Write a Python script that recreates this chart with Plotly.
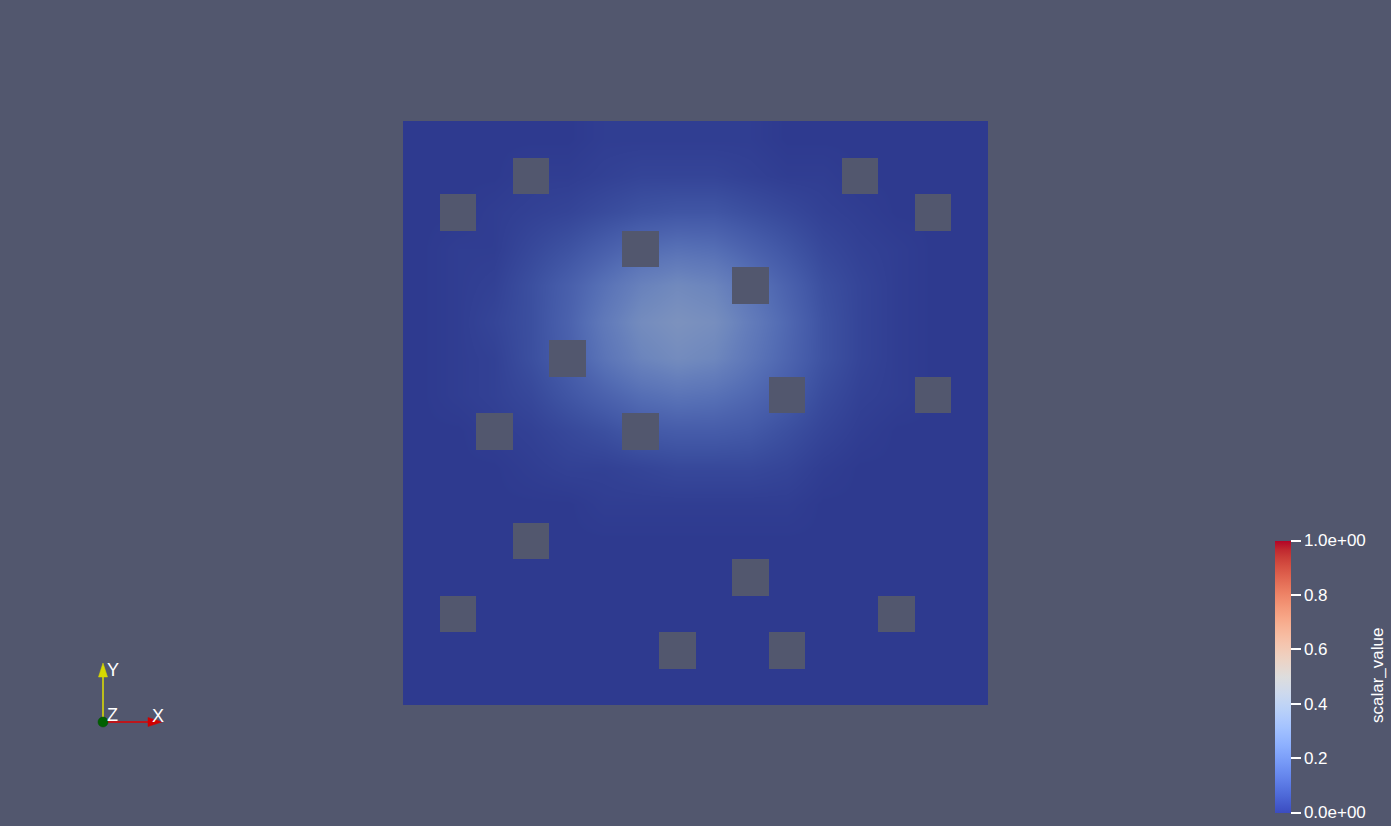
import plotly.graph_objects as go
import numpy as np

BG = "#52576e"

# 16 x 16 coarse grid of estimated scalar values (row 0 = top)
field_rows = [
    [0.00,0.00,0.00,0.00,0.00,0.01,0.01,0.01,0.01,0.01,0.00,0.00,0.00,0.00,0.00,0.00],
    [0.00,0.00,0.00,0.01,0.01,0.02,0.03,0.03,0.03,0.02,0.01,0.01,0.00,0.00,0.00,0.00],
    [0.00,0.00,0.01,0.02,0.03,0.05,0.07,0.08,0.08,0.06,0.04,0.02,0.01,0.00,0.00,0.00],
    [0.00,0.01,0.01,0.04,0.07,0.11,0.15,0.17,0.16,0.12,0.08,0.04,0.02,0.01,0.00,0.00],
    [0.00,0.01,0.02,0.06,0.11,0.17,0.23,0.26,0.24,0.18,0.12,0.06,0.03,0.01,0.00,0.00],
    [0.00,0.01,0.03,0.06,0.12,0.20,0.27,0.30,0.28,0.21,0.14,0.07,0.03,0.01,0.00,0.00],
    [0.00,0.01,0.02,0.06,0.11,0.18,0.24,0.27,0.25,0.19,0.13,0.07,0.03,0.01,0.00,0.00],
    [0.00,0.01,0.02,0.04,0.08,0.12,0.16,0.18,0.17,0.14,0.10,0.05,0.02,0.01,0.00,0.00],
    [0.00,0.00,0.01,0.02,0.04,0.06,0.09,0.10,0.10,0.09,0.06,0.03,0.01,0.00,0.00,0.00],
    [0.00,0.00,0.00,0.01,0.02,0.02,0.03,0.04,0.04,0.04,0.03,0.01,0.00,0.00,0.00,0.00],
    [0.00,0.00,0.00,0.00,0.00,0.01,0.01,0.01,0.01,0.01,0.01,0.00,0.00,0.00,0.00,0.00],
    [0.00]*16,
    [0.00]*16,
    [0.00]*16,
    [0.00]*16,
    [0.00]*16,
]

# obstacle cells (column, row from top)
hole_cols = [3, 12, 1, 14, 6, 9, 4, 10, 14, 2, 6, 3, 9, 1, 13, 7, 10]
hole_rows = [1, 1, 2, 2, 3, 4, 6, 7, 7, 8, 8, 11, 12, 13, 13, 14, 14]

# colorbar ticks
tick_vals = [0.0, 0.2, 0.4, 0.6, 0.8, 1.0]
tick_text = ["0.0e+00", "0.2", "0.4", "0.6", "0.8", "1.0e+00"]
bar_title = "scalar_value"

# Cool to Warm colormap
cw_pos = [0.0, 0.03125, 0.0625, 0.09375, 0.125, 0.15625, 0.1875, 0.21875, 0.25,
          0.28125, 0.3125, 0.34375, 0.375, 0.40625, 0.4375, 0.46875, 0.5,
          0.53125, 0.5625, 0.59375, 0.625, 0.65625, 0.6875, 0.71875, 0.75,
          0.78125, 0.8125, 0.84375, 0.875, 0.90625, 0.9375, 0.96875, 1.0]
cw_rgb = [(59,76,192),(68,90,204),(77,104,215),(87,117,225),(98,130,234),(108,142,241),
          (119,154,247),(130,165,251),(141,176,254),(152,185,255),(163,194,255),(174,201,253),
          (184,208,249),(194,213,244),(204,217,238),(213,219,230),(221,221,221),(229,216,209),
          (236,211,197),(241,204,185),(245,196,173),(247,187,160),(247,177,148),(247,166,135),
          (244,154,123),(241,141,111),(236,127,99),(229,112,88),(222,96,77),(213,80,66),
          (203,62,56),(192,40,47),(180,4,38)]

cs_true = [[p, "rgb(%d,%d,%d)" % c] for p, c in zip(cw_pos, cw_rgb)]
shade = (0.78, 0.765, 0.745)
cs_lit = [[p, "rgb(%d,%d,%d)" % tuple(int(round(v * s)) for v, s in zip(c, shade))]
          for p, c in zip(cw_pos, cw_rgb)]

FONT = "Liberation Sans, Arial"
n = 16
xc = [i + 0.5 for i in range(n)]
yc = [j + 0.5 for j in range(n)]

mask = np.full((n, n), np.nan)
for c, r in zip(hole_cols, hole_rows):
    mask[r, c] = 1.0

fig = go.Figure()
fig.add_trace(go.Heatmap(
    x=xc, y=yc, z=field_rows, colorscale=cs_lit, zmin=0, zmax=1,
    zsmooth="best", showscale=False, hoverinfo="skip"))
fig.add_trace(go.Heatmap(
    x=xc, y=yc, z=mask, colorscale=[[0, BG], [1, BG]], zmin=0, zmax=1,
    showscale=False, hoverinfo="skip", xgap=0, ygap=0))
fig.add_trace(go.Scatter(
    x=[-50], y=[-50], mode="markers", hoverinfo="skip", showlegend=False,
    marker=dict(color=[0.5], cmin=0, cmax=1, colorscale=cs_true, showscale=True, size=1,
                colorbar=dict(
                    thickness=16, thicknessmode="pixels",
                    len=272, lenmode="pixels",
                    x=1275 / 1391, xanchor="left", xref="paper",
                    y=1 - 676.5 / 826, yanchor="middle", yref="paper",
                    xpad=0, ypad=0, outlinewidth=0, borderwidth=0,
                    tickmode="array", tickvals=tick_vals, ticktext=tick_text,
                    ticks="outside", ticklen=10, tickwidth=1.5, tickcolor="white",
                    tickfont=dict(family=FONT, size=17, color="white"),
                ))))

W, H = 1391, 826
def px(x): return x / W
def py(y): return 1 - y / H

shapes = [
    dict(type="line", xref="paper", yref="paper", x0=px(103), y0=py(722), x1=px(103), y1=py(672),
         line=dict(color="#e0e000", width=1.5)),
    dict(type="path", xref="paper", yref="paper",
         path="M %f %f L %f %f L %f %f Z" % (px(98.5), py(677), px(103), py(663), px(107.5), py(677)),
         fillcolor="#d8d800", line=dict(color="#d8d800", width=0.5)),
    dict(type="line", xref="paper", yref="paper", x0=px(103), y0=py(722), x1=px(150), y1=py(722),
         line=dict(color="#e00000", width=1.5)),
    dict(type="path", xref="paper", yref="paper",
         path="M %f %f L %f %f L %f %f Z" % (px(148), py(717.5), px(162), py(722), px(148), py(726.5)),
         fillcolor="#d00000", line=dict(color="#d00000", width=0.5)),
    dict(type="circle", xref="paper", yref="paper", x0=px(98), y0=py(717), x1=px(108), y1=py(727),
         fillcolor="#006000", line=dict(color="#005000", width=0.5)),
]
annotations = [
    dict(text="Y", x=px(105), y=py(670), xref="paper", yref="paper", xanchor="left", yanchor="middle",
         showarrow=False, font=dict(family=FONT, size=18, color="white")),
    dict(text="Z", x=px(105), y=py(715), xref="paper", yref="paper", xanchor="left", yanchor="middle",
         showarrow=False, font=dict(family=FONT, size=18, color="white")),
    dict(text="X", x=px(150), y=py(716), xref="paper", yref="paper", xanchor="left", yanchor="middle",
         showarrow=False, font=dict(family=FONT, size=18, color="white")),
    dict(text=bar_title, x=px(1377), y=py(676), xref="paper", yref="paper", xanchor="center",
         yanchor="middle", textangle=-90, showarrow=False,
         font=dict(family=FONT, size=17, color="white")),
]

fig.update_layout(
    width=W, height=H, margin=dict(l=0, r=0, t=0, b=0),
    paper_bgcolor=BG, plot_bgcolor=BG, showlegend=False,
    xaxis=dict(domain=[403 / W, 988 / W], range=[0, 16], visible=False, fixedrange=True),
    yaxis=dict(domain=[(826 - 705) / H, (826 - 121) / H], range=[16, 0], visible=False, fixedrange=True),
    shapes=shapes, annotations=annotations,
)

fig.write_html("out.html")
